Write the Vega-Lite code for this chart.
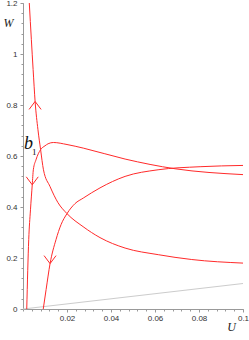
{
  "$schema": "https://vega.github.io/schema/vega-lite/v6.json",
  "autosize": "none",
  "width": 220,
  "height": 306,
  "padding": {"left": 23, "top": 3, "right": 6, "bottom": 31},
  "background": "white",
  "config": {"view": {"stroke": null}},
  "datasets": {
    "curves": [
      {"curve": "c1", "k": 1, "U": 0.00286, "W": 1.2},
      {"curve": "c1", "k": 2, "U": 0.0038, "W": 1.056},
      {"curve": "c1", "k": 3, "U": 0.0046, "W": 0.939},
      {"curve": "c1", "k": 4, "U": 0.0055, "W": 0.814},
      {"curve": "c1", "k": 5, "U": 0.0068, "W": 0.703},
      {"curve": "c1", "k": 6, "U": 0.008, "W": 0.625},
      {"curve": "c1", "k": 7, "U": 0.0093, "W": 0.546},
      {"curve": "c1", "k": 8, "U": 0.0123, "W": 0.48},
      {"curve": "c1", "k": 9, "U": 0.0159, "W": 0.417},
      {"curve": "c1", "k": 10, "U": 0.02, "W": 0.374},
      {"curve": "c1", "k": 11, "U": 0.0273, "W": 0.323},
      {"curve": "c1", "k": 12, "U": 0.035, "W": 0.28},
      {"curve": "c1", "k": 13, "U": 0.0464, "W": 0.239},
      {"curve": "c1", "k": 14, "U": 0.0615, "W": 0.213},
      {"curve": "c1", "k": 15, "U": 0.0767, "W": 0.194},
      {"curve": "c1", "k": 16, "U": 0.1, "W": 0.18},
      {"curve": "c2", "k": 1, "U": 0.0017, "W": 0.0},
      {"curve": "c2", "k": 2, "U": 0.0026, "W": 0.272},
      {"curve": "c2", "k": 3, "U": 0.0034, "W": 0.389},
      {"curve": "c2", "k": 4, "U": 0.0042, "W": 0.487},
      {"curve": "c2", "k": 5, "U": 0.0047, "W": 0.546},
      {"curve": "c2", "k": 6, "U": 0.0059, "W": 0.585},
      {"curve": "c2", "k": 7, "U": 0.008, "W": 0.625},
      {"curve": "c2", "k": 8, "U": 0.01, "W": 0.64},
      {"curve": "c2", "k": 9, "U": 0.0114, "W": 0.648},
      {"curve": "c2", "k": 10, "U": 0.0138, "W": 0.653},
      {"curve": "c2", "k": 11, "U": 0.02, "W": 0.645},
      {"curve": "c2", "k": 12, "U": 0.0274, "W": 0.631},
      {"curve": "c2", "k": 13, "U": 0.0464, "W": 0.588},
      {"curve": "c2", "k": 14, "U": 0.0691, "W": 0.55},
      {"curve": "c2", "k": 15, "U": 0.1, "W": 0.527},
      {"curve": "c3", "k": 1, "U": 0.0092, "W": 0.0},
      {"curve": "c3", "k": 2, "U": 0.0105, "W": 0.076},
      {"curve": "c3", "k": 3, "U": 0.0123, "W": 0.178},
      {"curve": "c3", "k": 4, "U": 0.015, "W": 0.272},
      {"curve": "c3", "k": 5, "U": 0.0173, "W": 0.331},
      {"curve": "c3", "k": 6, "U": 0.02, "W": 0.374},
      {"curve": "c3", "k": 7, "U": 0.0236, "W": 0.413},
      {"curve": "c3", "k": 8, "U": 0.0274, "W": 0.435},
      {"curve": "c3", "k": 9, "U": 0.035, "W": 0.475},
      {"curve": "c3", "k": 10, "U": 0.0464, "W": 0.52},
      {"curve": "c3", "k": 11, "U": 0.0614, "W": 0.546},
      {"curve": "c3", "k": 12, "U": 0.0805, "W": 0.558},
      {"curve": "c3", "k": 13, "U": 0.1, "W": 0.563}
    ],
    "diag": [
      {"U": 0.0, "W": 0.0},
      {"U": 0.1, "W": 0.1}
    ],
    "arrows": [
      {"U": 0.0055, "W": 0.814, "dir": "up"},
      {"U": 0.0042, "W": 0.487, "dir": "down"},
      {"U": 0.0123, "W": 0.178, "dir": "down"}
    ],
    "labelB": [{"U": 0.0025, "W": 0.629, "t": "b"}],
    "labelSub": [{"U": 0.0051, "W": 0.603, "t": "1"}]
  },
  "resolve": {"axis": {"x": "independent", "y": "independent"}},
  "layer": [
    {
      "data": {"name": "diag"},
      "mark": {"type": "line", "color": "#cccccc", "strokeWidth": 1},
      "encoding": {
        "x": {"field": "U", "type": "quantitative", "scale": {"domain": [0, 0.1], "nice": false},
          "axis": {"orient": "bottom", "values": [0,0.004,0.008,0.012,0.016,0.02,0.024,0.028,0.032,0.036,0.04,0.044,0.048,0.052,0.056,0.06,0.064,0.068,0.072,0.076,0.08,0.084,0.088,0.092,0.096,0.1],
            "labels": false, "grid": false, "domain": false, "tickSize": 2, "tickColor": "#999999", "title": null}},
        "y": {"field": "W", "type": "quantitative", "scale": {"domain": [0, 1.2], "nice": false},
          "axis": {"orient": "left", "values": [0,0.04,0.08,0.12,0.16,0.2,0.24,0.28,0.32,0.36,0.4,0.44,0.48,0.52,0.56,0.6,0.64,0.68,0.72,0.76,0.8,0.84,0.88,0.92,0.96,1,1.04,1.08,1.12,1.16,1.2],
            "labels": false, "grid": false, "domain": false, "tickSize": 2, "tickColor": "#999999", "title": null}}
      }
    },
    {
      "data": {"name": "curves"},
      "mark": {"type": "line", "color": "#ff2a2a", "strokeWidth": 1, "interpolate": "monotone"},
      "encoding": {
        "x": {"field": "U", "type": "quantitative", "scale": {"domain": [0, 0.1], "nice": false},
          "axis": {"orient": "bottom", "values": [0.02, 0.04, 0.06, 0.08, 0.1], "format": "~g",
            "grid": false, "tickSize": 3, "tickColor": "#999999", "domainColor": "#999999",
            "labelFont": "Liberation Sans", "labelFontSize": 8, "labelColor": "#333333", "labelPadding": 2,
            "labelFlush": false, "labelOverlap": false,
            "title": "U", "titleFont": "Liberation Serif", "titleFontStyle": "italic", "titleFontWeight": "normal",
            "titleFontSize": 12, "titleColor": "#222222", "titleAnchor": null, "titleAlign": "center", "titleBaseline": "middle",
            "titleX": 208, "titleY": 17}},
        "y": {"field": "W", "type": "quantitative", "scale": {"domain": [0, 1.2], "nice": false},
          "axis": {"orient": "left", "values": [0, 0.2, 0.4, 0.6, 0.8, 1, 1.2], "format": "~g",
            "grid": false, "tickSize": 3, "tickColor": "#999999", "domainColor": "#999999",
            "labelFont": "Liberation Sans", "labelFontSize": 8, "labelColor": "#333333", "labelPadding": 3,
            "labelFlush": false, "labelOverlap": false,
            "title": "W", "titleFont": "Liberation Serif", "titleFontStyle": "italic", "titleFontWeight": "normal",
            "titleFontSize": 12, "titleColor": "#222222", "titleAngle": 0, "titleAnchor": null, "titleAlign": "center", "titleBaseline": "middle",
            "titleX": -15, "titleY": 19}},
        "detail": {"field": "curve", "type": "nominal"},
        "order": {"field": "k", "type": "quantitative"}
      }
    },
    {
      "data": {"name": "arrows"},
      "mark": {"type": "point", "filled": false, "stroke": "#ff2a2a", "strokeWidth": 1, "size": 256, "opacity": 1},
      "encoding": {
        "x": {"field": "U", "type": "quantitative", "axis": null},
        "y": {"field": "W", "type": "quantitative", "axis": null},
        "shape": {"field": "dir", "type": "nominal", "legend": null,
          "scale": {"domain": ["up", "down"], "range": ["M-0.75,1L0,0L0.75,1", "M-0.75,-1L0,0L0.75,-1"]}}
      }
    },
    {
      "data": {"name": "labelB"},
      "mark": {"type": "text", "font": "Liberation Serif", "fontStyle": "italic", "fontSize": 18, "color": "#111111", "align": "center", "baseline": "alphabetic"},
      "encoding": {
        "x": {"field": "U", "type": "quantitative", "axis": null},
        "y": {"field": "W", "type": "quantitative", "axis": null},
        "text": {"field": "t", "type": "nominal"}
      }
    },
    {
      "data": {"name": "labelSub"},
      "mark": {"type": "text", "font": "Liberation Serif", "fontSize": 9, "color": "#111111", "align": "center", "baseline": "alphabetic"},
      "encoding": {
        "x": {"field": "U", "type": "quantitative", "axis": null},
        "y": {"field": "W", "type": "quantitative", "axis": null},
        "text": {"field": "t", "type": "nominal"}
      }
    }
  ]
}
